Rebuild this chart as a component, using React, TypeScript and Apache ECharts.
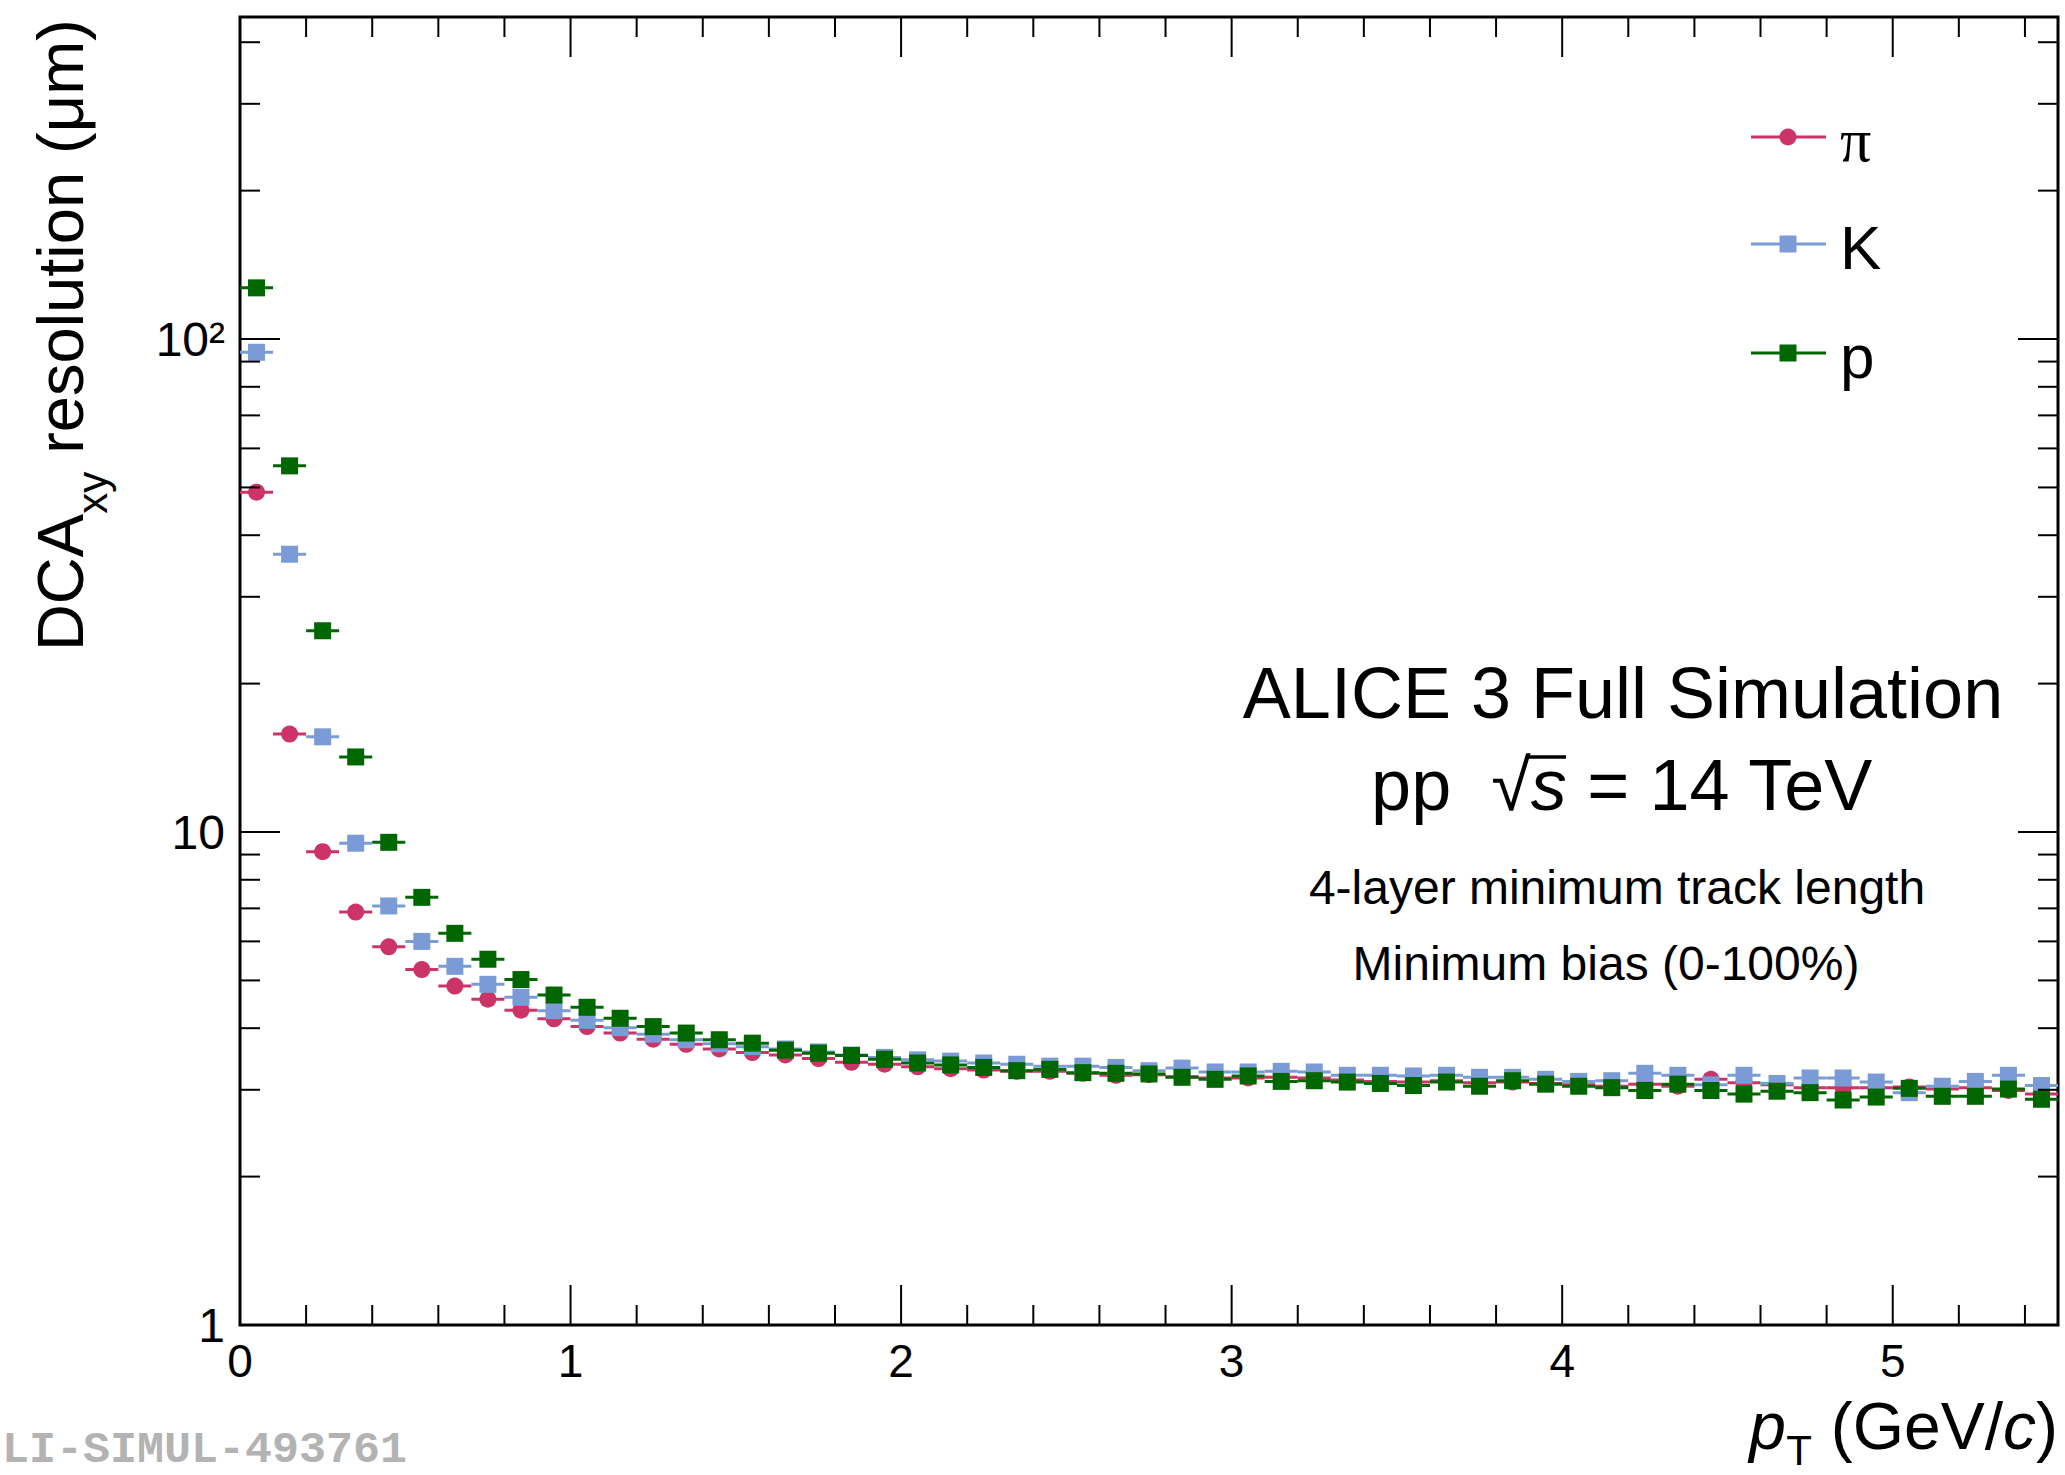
import React, { useEffect, useRef } from "react";
import * as echarts from "echarts";

// ---------------- data ----------------
const pT = [
  0.05, 0.15, 0.25, 0.35, 0.45, 0.55, 0.65, 0.75, 0.85, 0.95,
  1.05, 1.15, 1.25, 1.35, 1.45, 1.55, 1.65, 1.75, 1.85, 1.95,
  2.05, 2.15, 2.25, 2.35, 2.45, 2.55, 2.65, 2.75, 2.85, 2.95,
  3.05, 3.15, 3.25, 3.35, 3.45, 3.55, 3.65, 3.75, 3.85, 3.95,
  4.05, 4.15, 4.25, 4.35, 4.45, 4.55, 4.65, 4.75, 4.85, 4.95,
  5.05, 5.15, 5.25, 5.35, 5.45,
];
const pionRes = [
  48.9, 15.8, 9.12, 6.88, 5.85, 5.26, 4.87, 4.58, 4.35, 4.18,
  4.03, 3.91, 3.80, 3.71, 3.63, 3.57, 3.53, 3.47, 3.41, 3.38,
  3.34, 3.31, 3.29, 3.27, 3.27, 3.24, 3.21, 3.22, 3.19, 3.17,
  3.17, 3.18, 3.17, 3.14, 3.12, 3.11, 3.13, 3.10, 3.11, 3.09,
  3.07, 3.05, 3.08, 3.05, 3.15, 3.10, 3.07, 3.03, 3.03, 3.03,
  3.04, 3.01, 3.03, 2.99, 2.94,
];
const kaonRes = [
  94.0, 36.6, 15.6, 9.49, 7.08, 6.00, 5.34, 4.91, 4.62, 4.34,
  4.15, 4.01, 3.89, 3.79, 3.72, 3.67, 3.63, 3.58, 3.53, 3.49,
  3.45, 3.43, 3.40, 3.38, 3.35, 3.35, 3.33, 3.28, 3.32, 3.26,
  3.26, 3.27, 3.26, 3.21, 3.21, 3.20, 3.21, 3.18, 3.18, 3.15,
  3.12, 3.13, 3.24, 3.21, 3.07, 3.21, 3.09, 3.17, 3.17, 3.11,
  2.96, 3.05, 3.12, 3.21, 3.06,
];
const protonRes = [
  127, 55.3, 25.6, 14.2, 9.53, 7.37, 6.23, 5.52, 5.02, 4.67,
  4.41, 4.19, 4.03, 3.91, 3.79, 3.73, 3.61, 3.56, 3.52, 3.46,
  3.40, 3.37, 3.33, 3.28, 3.30, 3.25, 3.24, 3.23, 3.18, 3.15,
  3.20, 3.12, 3.13, 3.11, 3.09, 3.06, 3.11, 3.05, 3.13, 3.08,
  3.05, 3.03, 2.99, 3.08, 2.99, 2.94, 2.98, 2.96, 2.86, 2.90,
  3.02, 2.91, 2.91, 3.01, 2.87,
];
const xMajorTicks = [0, 1, 2, 3, 4, 5];
const xMinorTicks = [
  0.2, 0.4, 0.6, 0.8, 1.2, 1.4, 1.6, 1.8, 2.2, 2.4, 2.6, 2.8,
  3.2, 3.4, 3.6, 3.8, 4.2, 4.4, 4.6, 4.8, 5.2, 5.4,
];
const yMajorTicks = [1, 10, 100];
const yMinorTicks = [
  2, 3, 4, 5, 6, 7, 8, 9, 20, 30, 40, 50, 60, 70, 80, 90, 200, 300, 400,
];
const yTickLabels: Record<number, string> = { 1: "1", 10: "10", 100: "10²" };
const legendNames = ["π", "K", "p"];

// ---------------- styles ----------------
const X_MIN = 0;
const X_MAX = 5.5;
const Y_MIN = 1;
const Y_MAX = 450;
const BIN_HALF = 0.05;
const SANS = "'Liberation Sans', Arial, Helvetica, sans-serif";
const SERIF = "'Liberation Serif', 'Times New Roman', serif";
const MONO = "'Liberation Mono', 'Courier New', monospace";
const COL_PI = "#cc3366";
const COL_K = "#7b9bd6";
const COL_P = "#006600";

function xTickSeries(values: number[], len: number) {
  return {
    type: "custom",
    silent: true,
    z: 20,
    data: values.map((v) => [v, Y_MIN]),
    renderItem: (_p: any, api: any) => {
      const v = api.value(0);
      const b = api.coord([v, Y_MIN]);
      const t = api.coord([v, Y_MAX]);
      return {
        type: "group",
        children: [
          { type: "line", shape: { x1: b[0], y1: b[1], x2: b[0], y2: b[1] - len }, style: { stroke: "#000", lineWidth: 2 } },
          { type: "line", shape: { x1: t[0], y1: t[1], x2: t[0], y2: t[1] + len }, style: { stroke: "#000", lineWidth: 2 } },
        ],
      };
    },
  };
}

function yTickSeries(values: number[], len: number) {
  return {
    type: "custom",
    silent: true,
    z: 20,
    data: values.map((v) => [X_MIN, v]),
    renderItem: (_p: any, api: any) => {
      const v = api.value(1);
      const l = api.coord([X_MIN, v]);
      const r = api.coord([X_MAX, v]);
      return {
        type: "group",
        children: [
          { type: "line", shape: { x1: l[0], y1: l[1], x2: l[0] + len, y2: l[1] }, style: { stroke: "#000", lineWidth: 2 } },
          { type: "line", shape: { x1: r[0], y1: r[1], x2: r[0] - len, y2: r[1] }, style: { stroke: "#000", lineWidth: 2 } },
        ],
      };
    },
  };
}

function errorBarSeries(values: number[], color: string) {
  return {
    type: "custom",
    silent: true,
    z: 2,
    data: pT.map((x, i) => [x, values[i]]),
    renderItem: (_p: any, api: any) => {
      const x = api.value(0);
      const y = api.value(1);
      const a = api.coord([x - BIN_HALF, y]);
      const b = api.coord([x + BIN_HALF, y]);
      return {
        type: "line",
        shape: { x1: a[0], y1: a[1], x2: b[0], y2: b[1] },
        style: { stroke: color, lineWidth: 3 },
      };
    },
  };
}

function markerSeries(name: string, values: number[], color: string, symbol: string) {
  return {
    type: "scatter",
    name,
    silent: true,
    z: 2,
    symbol,
    symbolSize: 17,
    itemStyle: { color, opacity: 1 },
    data: pT.map((x, i) => [x, values[i]]),
  };
}

function legendItem(y: number, color: string, symbol: string, label: string, font: string) {
  const marker =
    symbol === "circle"
      ? { type: "circle", shape: { cx: 1788, cy: y, r: 8.5 }, style: { fill: color } }
      : { type: "rect", shape: { x: 1779.5, y: y - 8.5, width: 17, height: 17 }, style: { fill: color } };
  return [
    { type: "line", shape: { x1: 1751, y1: y, x2: 1826, y2: y }, style: { stroke: color, lineWidth: 3 } },
    marker,
    {
      type: "text",
      x: 1840,
      y: y + 3,
      style: { text: label, font: `62px ${font}`, fill: "#000", align: "left", verticalAlign: "middle" },
    },
  ];
}

export default function App() {
  const ref = useRef<HTMLDivElement>(null);

  useEffect(() => {
    if (!ref.current) return;
    const chart = echarts.init(ref.current, undefined, { renderer: "svg" });

    const option: any = {
      animation: false,
      backgroundColor: "#fff",
      grid: {
        left: 240,
        right: 7,
        top: 17,
        bottom: 150,
        show: true,
        borderColor: "#000",
        borderWidth: 3,
        backgroundColor: "transparent",
      },
      xAxis: {
        type: "value",
        min: X_MIN,
        max: X_MAX,
        interval: 1,
        axisLine: { show: false },
        axisTick: { show: false },
        splitLine: { show: false },
        axisLabel: {
          color: "#000",
          fontFamily: SANS,
          fontSize: 46,
          margin: 13,
          formatter: (v: number) => (Math.abs(v - Math.round(v)) < 1e-6 ? String(Math.round(v)) : ""),
        },
      },
      yAxis: {
        type: "log",
        logBase: 10,
        min: Y_MIN,
        max: Y_MAX,
        axisLine: { show: false },
        axisTick: { show: false },
        splitLine: { show: false },
        minorTick: { show: false },
        axisLabel: {
          color: "#000",
          fontFamily: SANS,
          fontSize: 48,
          margin: 15,
          formatter: (v: number) => yTickLabels[Math.round(v)] || "",
        },
      },
      series: [
        errorBarSeries(pionRes, COL_PI),
        markerSeries(legendNames[0], pionRes, COL_PI, "circle"),
        errorBarSeries(kaonRes, COL_K),
        markerSeries(legendNames[1], kaonRes, COL_K, "rect"),
        errorBarSeries(protonRes, COL_P),
        markerSeries(legendNames[2], protonRes, COL_P, "rect"),
        xTickSeries(xMajorTicks, 40),
        xTickSeries(xMinorTicks, 20),
        yTickSeries(yMajorTicks, 40),
        yTickSeries(yMinorTicks, 20),
      ],
      graphic: [
        // y-axis title
        {
          type: "text",
          x: 60,
          y: 19,
          rotation: Math.PI / 2,
          style: {
            text: "{n|DCA}{sub|xy}{n| resolution (μm)}",
            align: "right",
            verticalAlign: "middle",
            rich: {
              n: { fontSize: 65, fontFamily: SANS, fill: "#000", lineHeight: 106 },
              sub: { fontSize: 42, fontFamily: SANS, fill: "#000", lineHeight: 12, verticalAlign: "bottom" },
            },
          },
        },
        // x-axis title: p, subscript T, (GeV/c)
        {
          type: "text",
          x: 2058,
          y: 1426,
          style: {
            text: "{n| (GeV/}{i|c}{n|)}",
            align: "right",
            verticalAlign: "middle",
            rich: {
              n: { fontSize: 66, fontFamily: SANS, fill: "#000" },
              i: { fontSize: 66, fontFamily: SANS, fontStyle: "italic", fill: "#000" },
            },
          },
        },
        {
          type: "text",
          x: 1812,
          y: 1450,
          style: { text: "T", font: `42px ${SANS}`, fill: "#000", align: "right", verticalAlign: "middle" },
        },
        {
          type: "text",
          x: 1786,
          y: 1426,
          style: { text: "p", font: `italic 66px ${SANS}`, fill: "#000", align: "right", verticalAlign: "middle" },
        },
        // annotations
        {
          type: "text",
          x: 1623,
          y: 693,
          style: { text: "ALICE 3 Full Simulation", font: `72px ${SANS}`, fill: "#000", align: "center", verticalAlign: "middle" },
        },
        {
          type: "text",
          x: 1622,
          y: 785,
          style: {
            text: "{n|pp  √}{i|s}{n| = 14 TeV}",
            align: "center",
            verticalAlign: "middle",
            rich: {
              n: { fontSize: 72, fontFamily: SANS, fill: "#000" },
              i: { fontSize: 72, fontFamily: SANS, fontStyle: "italic", fill: "#000" },
            },
          },
        },
        {
          type: "line",
          shape: { x1: 1527, y1: 757, x2: 1566, y2: 757 },
          style: { stroke: "#000", lineWidth: 3.5 },
        },
        {
          type: "text",
          x: 1617,
          y: 887,
          style: { text: "4-layer minimum track length", font: `48px ${SANS}`, fill: "#000", align: "center", verticalAlign: "middle" },
        },
        {
          type: "text",
          x: 1606,
          y: 963,
          style: { text: "Minimum bias (0-100%)", font: `48px ${SANS}`, fill: "#000", align: "center", verticalAlign: "middle" },
        },
        // legend
        ...legendItem(137, COL_PI, "circle", legendNames[0], SERIF),
        ...legendItem(244, COL_K, "rect", legendNames[1], SANS),
        ...legendItem(353, COL_P, "rect", legendNames[2], SANS),
        // watermark
        {
          type: "text",
          x: 2,
          y: 1473,
          style: {
            text: "LI-SIMUL-493761",
            font: `bold 45px ${MONO}`,
            lineHeight: 46,
            fill: "#b3b3b3",
            align: "left",
            verticalAlign: "bottom",
          },
        },
      ],
    };

    chart.setOption(option);
    return () => chart.dispose();
  }, []);

  return (
    <div
      ref={ref}
      style={{ position: "absolute", left: 0, top: 0, width: 2065, height: 1475, background: "#fff" }}
    />
  );
}
